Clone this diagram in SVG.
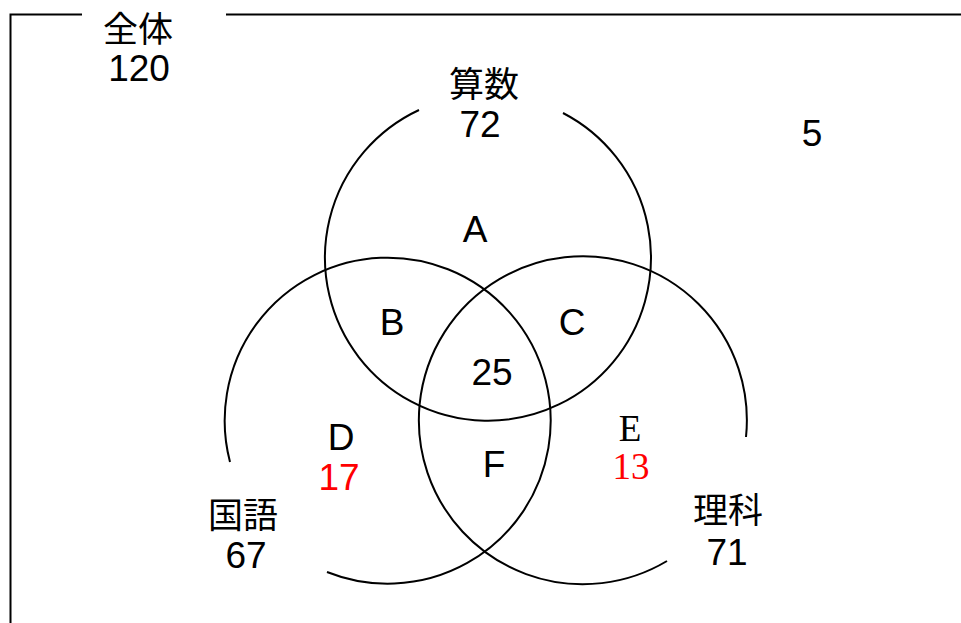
<svg xmlns="http://www.w3.org/2000/svg" width="961" height="623" viewBox="0 0 961 623">
<style>
.ln{fill:none;stroke:#000;stroke-width:2}
.t{font-family:"Liberation Sans","Noto Sans CJK JP",sans-serif;font-size:37px;fill:#000;text-anchor:middle}
.j{font-family:"Noto Sans CJK JP","Liberation Sans",sans-serif;font-size:35px;fill:#000;text-anchor:middle}
.s{font-family:"Liberation Serif",serif;font-size:37px;text-anchor:middle}
.r{fill:#FF0000}
</style>
<rect width="961" height="623" fill="#fff"/>
<g id="frame">
<path class="ln" d="M82,14.5 H10.5 V623 M226,14.5 H961"/>
<text class="j" x="138" y="42">全体</text>
<text class="t" x="139" y="81">120</text>
</g>
<g id="connectors">
<path id="math" class="ln" d="M563,113 A163,163 0 1 1 419,110"/>
<path id="japanese" class="ln" d="M230,462 A163,163 0 1 1 327,572"/>
<path id="science" class="ln" d="M667,561 A164,164 0 1 1 746,437"/>
</g>
<g id="node-math"><text class="j" x="484" y="97">算数</text><text class="t" x="480" y="137">72</text></g>
<g id="node-japanese"><text class="j" x="243" y="528">国語</text><text class="t" x="246" y="568">67</text></g>
<g id="node-science"><text class="j" x="728" y="523">理科</text><text class="t" x="727" y="565">71</text></g>
<g id="node-outside"><text class="t" x="812" y="146">5</text></g>
<g id="node-A"><text class="t" x="475" y="242">A</text></g>
<g id="node-B"><text class="t" x="392" y="335">B</text></g>
<g id="node-C"><text class="t" x="572" y="335">C</text></g>
<g id="node-center"><text class="t" x="492" y="385">25</text></g>
<g id="node-D"><text class="t" x="341" y="450">D</text><text class="t r" x="339" y="490">17</text></g>
<g id="node-F"><text class="t" x="494" y="477">F</text></g>
<g id="node-E"><text class="s" x="630" y="441" font-size="40">E</text><text class="s r" x="631" y="479">13</text></g>
</svg>
